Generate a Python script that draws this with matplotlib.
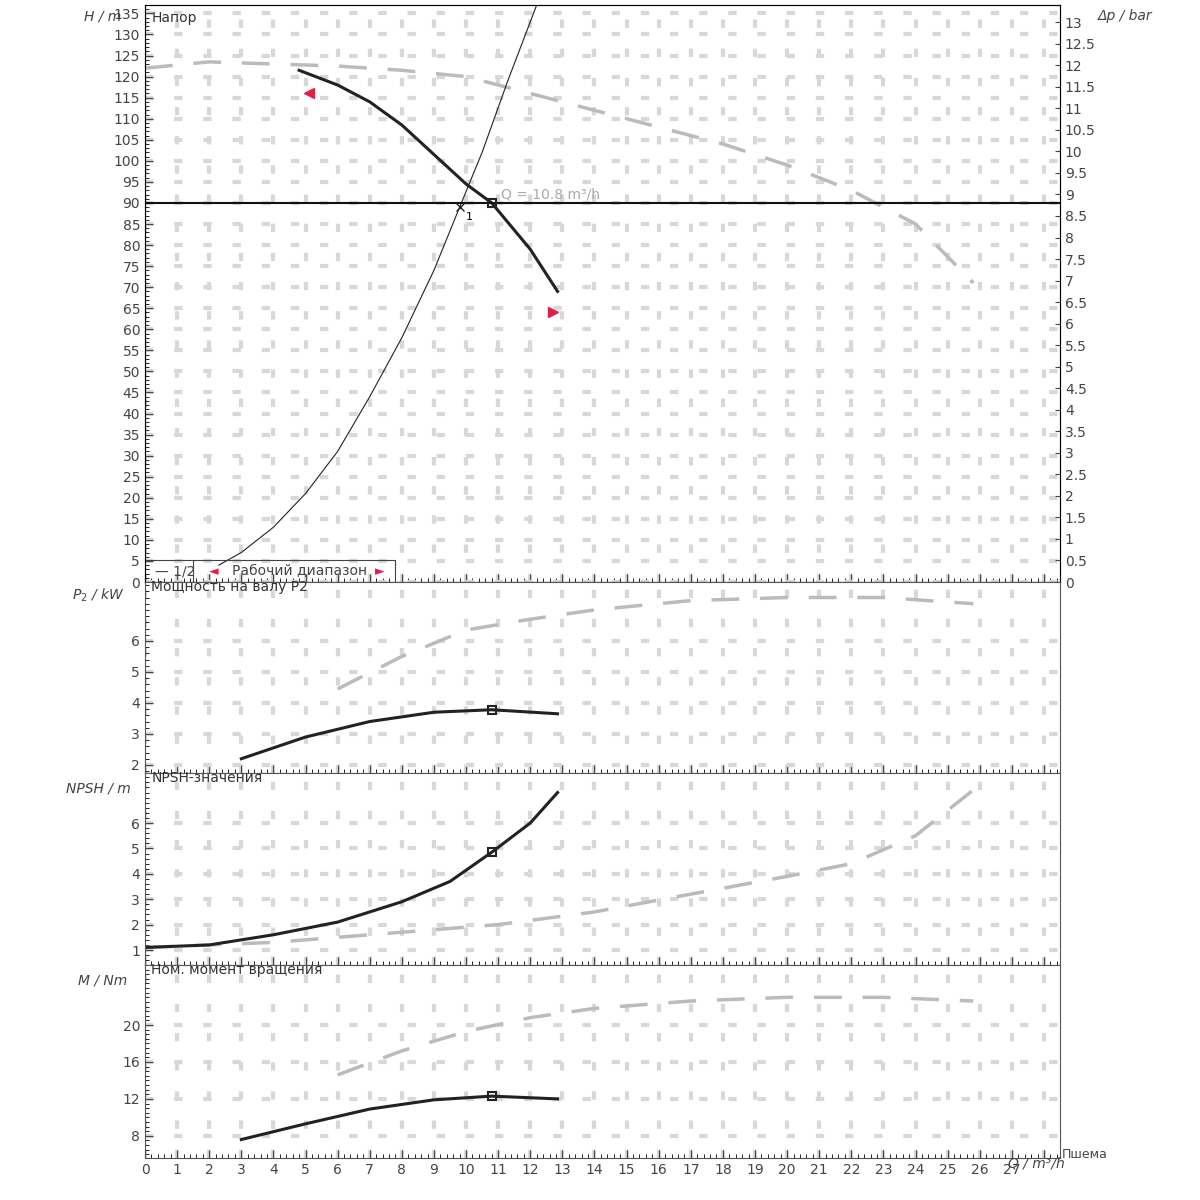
import numpy as np
import matplotlib.pyplot as plt

# Напор (H / m)
q_pump = [4.8, 6, 7, 8, 9, 10, 10.8, 12, 12.85]
h_pump = [121.5, 118, 114, 108.5, 101.5, 94.5, 90, 79, 69]
q_max = [0, 2, 4, 6, 8, 10, 12, 14, 16, 18, 20, 22, 24, 25.8]
h_max = [122, 123.5, 123, 122.5, 121.5, 120, 116, 112, 108, 104, 99, 93, 85, 71]
q_sys = [2.3, 3, 4, 5, 6, 7, 8, 9, 9.8, 10.5, 11.3, 12.2]
h_sys = [4, 7, 13, 21, 31, 44, 58, 74, 89, 102, 119, 137]
q_op, h_op = 10.8, 90

# Мощность P2 / kW
q_p2 = [3, 5, 7, 9, 10.8, 12.85]
p2 = [2.2, 2.9, 3.4, 3.7, 3.78, 3.65]
q_p2max = [6, 8, 10, 12, 14, 17, 20, 23, 25.8]
p2max = [4.45, 5.5, 6.35, 6.7, 7.0, 7.3, 7.4, 7.4, 7.2]

# NPSH / m
q_npsh = [0, 2, 4, 6, 8, 9.5, 10.8, 12, 12.85]
npsh = [1.1, 1.2, 1.6, 2.1, 2.9, 3.7, 4.85, 6.0, 7.2]
q_npshmax = [0, 4, 8, 11, 14, 17, 20, 22, 24, 25.8]
npshmax = [1.1, 1.3, 1.7, 2.0, 2.5, 3.2, 3.9, 4.4, 5.5, 7.3]

# Момент M / Nm
q_m = [3, 5, 7, 9, 10.8, 12.85]
m = [7.6, 9.3, 10.9, 11.9, 12.3, 12.0]
q_mmax = [6, 8, 10, 12, 14, 17, 20, 23, 25.8]
mmax = [14.6, 17.2, 19.3, 20.8, 21.8, 22.6, 23, 23, 22.6]

fig = plt.figure(figsize=(12, 12), dpi=100)
L, W = 145 / 1200, 915 / 1200
XMAX = 28.5
gcol = '#d8d8d8'
dcol = '#bbbbbb'


def make_ax(top, bot):
    ax = fig.add_axes([L, 1 - bot / 1200, W, (bot - top) / 1200])
    ax.set_xlim(0, XMAX)
    ax.set_xticks(np.arange(0, 29, 1))
    ax.set_xticks(np.arange(0, 28.6, 0.2), minor=True)
    ax.grid(True, color=gcol, lw=3, ls=(0, (2, 5)))
    ax.tick_params(labelsize=10, colors='#444444', direction='in', length=6)
    ax.tick_params(which='minor', direction='in', length=3)
    for s in ax.spines.values():
        s.set_color('#555555')
    return ax


# Напор
ax1 = make_ax(5, 582)
ax1.set_ylim(0, 137)
ax1.set_yticks(np.arange(0, 136, 5))
ax1.set_yticks(np.arange(0, 137, 1), minor=True)
ax1.plot(q_max, h_max, color=dcol, lw=2.5, ls=(0, (8, 6)))
ax1.plot(q_sys, h_sys, color='#222222', lw=0.8)
ax1.plot(q_pump, h_pump, color='#222222', lw=2.2)
ax1.axhline(h_op, color='#111111', lw=1.5)
ax1.plot(q_op, h_op, 's', mfc='none', mec='#222222', ms=6, mew=1.5)
ax1.plot(9.8, 89, 'x', color='#222222', ms=6)
ax1.text(10.0, 86, '1', fontsize=8)
ax1.text(11.1, 91, 'Q = 10.8 m³/h', color='#aaaaaa', fontsize=10)
ax1.plot(5.1, 116, '<', color='#e0204a', ms=7)
ax1.plot(12.7, 64, '>', color='#e0204a', ms=7)
ax1.tick_params(labelbottom=False)
ax1.text(0.2, 134, 'Напор', fontsize=10, color='#333333', va='center')
fig.text(0.07, 0.983, 'H / m', fontsize=10, color='#444444', style='italic')
axr = ax1.twinx()
axr.set_ylim(0, 13.4)
axr.set_yticks(np.arange(0, 13.1, 0.5))
axr.set_yticklabels([('%g' % v) for v in np.arange(0, 13.1, 0.5)])
axr.tick_params(labelsize=10, colors='#444444', direction='in')
fig.text(0.915, 0.983, 'Δp / bar', fontsize=10, color='#444444', style='italic')
ax1.text(0.3, 2.5, '— 1/2', fontsize=10, color='#444444', va='center')
ax1.text(2.0, 2.5, '◄', fontsize=9, color='#e0204a', va='center')
ax1.text(2.7, 2.5, 'Рабочий диапазон', fontsize=10, color='#444444', va='center')
ax1.text(7.15, 2.5, '►', fontsize=9, color='#e0204a', va='center')
ax1.plot([0, 7.8, 7.8], [5.3, 5.3, 0], color='#444444', lw=0.8)
ax1.plot([1.5, 1.5], [0, 5.3], color='#444444', lw=0.8)

# Мощность
ax2 = make_ax(582, 773)
ax2.set_ylim(1.74, 7.9)
ax2.set_yticks([2, 3, 4, 5, 6])
ax2.set_yticks(np.arange(1.8, 7.9, 0.2), minor=True)
ax2.plot(q_p2max, p2max, color=dcol, lw=2.5, ls=(0, (8, 6)))
ax2.plot(q_p2, p2, color='#222222', lw=2.2)
ax2.plot(q_op, 3.78, 's', mfc='none', mec='#222222', ms=6, mew=1.5)
ax2.tick_params(labelbottom=False)
ax2.text(0.2, 7.6, 'Мощность на валу P2', fontsize=10, color='#333333')
fig.text(0.06, 0.5, 'P$_2$ / kW', fontsize=10, color='#444444', style='italic')

# NPSH
ax3 = make_ax(773, 965)
ax3.set_ylim(0.41, 7.97)
ax3.set_yticks([1, 2, 3, 4, 5, 6])
ax3.set_yticks(np.arange(0.6, 7.9, 0.2), minor=True)
ax3.plot(q_npshmax, npshmax, color=dcol, lw=2.5, ls=(0, (8, 6)))
ax3.plot(q_npsh, npsh, color='#222222', lw=2.2)
ax3.plot(q_op, 4.85, 's', mfc='none', mec='#222222', ms=6, mew=1.5)
ax3.tick_params(labelbottom=False)
ax3.text(0.2, 7.6, 'NPSH-значения', fontsize=10, color='#333333')
fig.text(0.055, 0.34, 'NPSH / m', fontsize=10, color='#444444', style='italic')

# Момент
ax4 = make_ax(965, 1158)
ax4.set_ylim(5.6, 26.5)
ax4.set_yticks([8, 12, 16, 20])
ax4.set_yticks(np.arange(6, 26.5, 0.5), minor=True)
ax4.plot(q_mmax, mmax, color=dcol, lw=2.5, ls=(0, (8, 6)))
ax4.plot(q_m, m, color='#222222', lw=2.2)
ax4.plot(q_op, 12.3, 's', mfc='none', mec='#222222', ms=6, mew=1.5)
ax4.text(0.2, 25.5, 'Ном. момент вращения', fontsize=10, color='#333333')
fig.text(0.065, 0.18, 'M / Nm', fontsize=10, color='#444444', style='italic')
labels = [str(i) for i in range(28)] + ['']
ax4.set_xticklabels(labels)
fig.text(0.84, 0.027, 'Q / m³/h', fontsize=10, color='#444444', style='italic')
fig.text(0.885, 0.035, 'Пшема', fontsize=9, color='#444444')

fig.savefig('out.png', dpi=100)
